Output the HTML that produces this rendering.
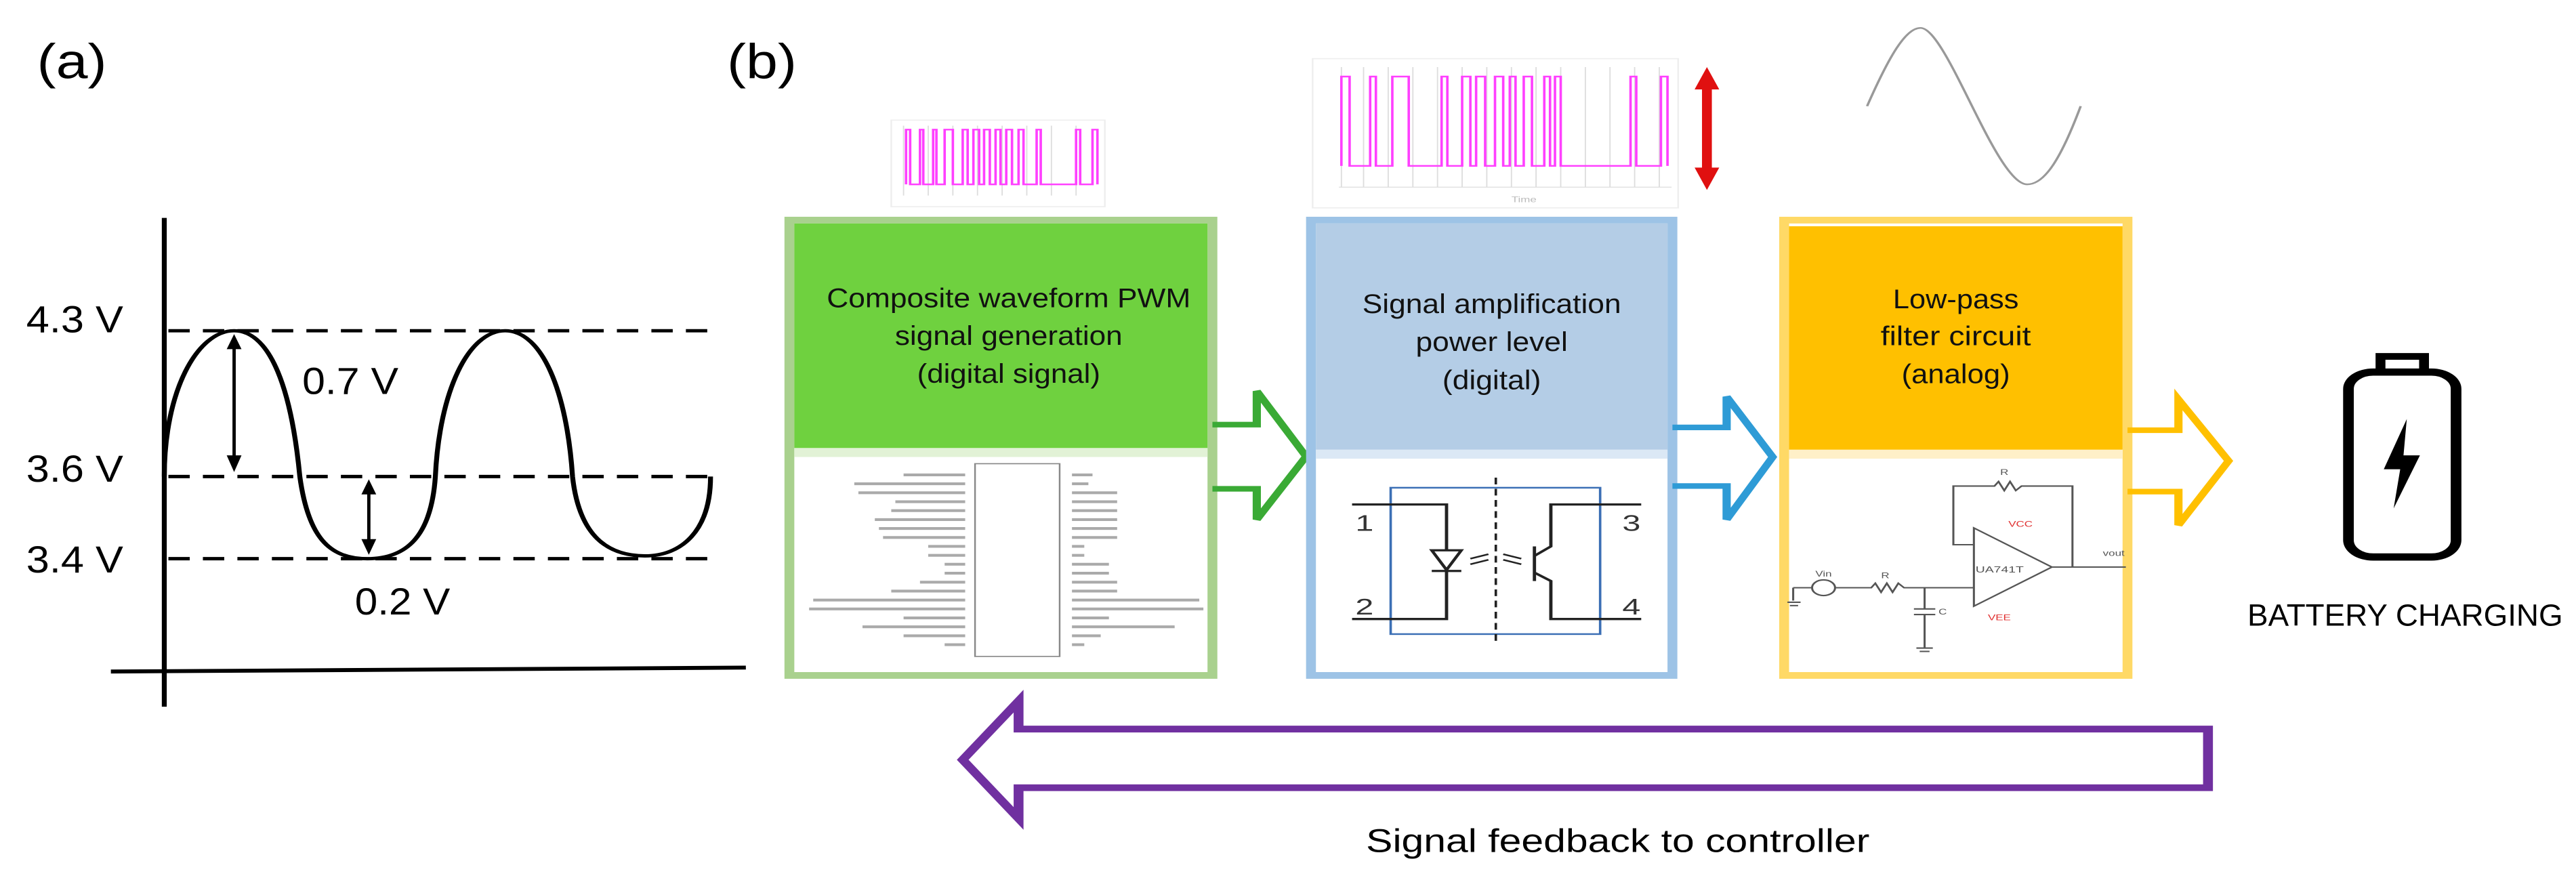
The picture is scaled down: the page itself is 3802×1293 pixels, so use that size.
<!DOCTYPE html>
<html><head><meta charset="utf-8"><style>
html,body{margin:0;padding:0;background:#fff;}
svg{display:block;}
text{font-family:"Liberation Sans",sans-serif;}
</style></head><body>
<svg width="3802" height="1293" viewBox="0 0 3136 1568" preserveAspectRatio="none" xmlns="http://www.w3.org/2000/svg">
<!-- (a) -->
<text x="45" y="140" font-size="88" textLength="85" lengthAdjust="spacingAndGlyphs">(a)</text>
<text x="885" y="140" font-size="88" textLength="85" lengthAdjust="spacingAndGlyphs">(b)</text>
<line x1="200" y1="390" x2="200" y2="1265" stroke="#000" stroke-width="6"/>
<line x1="135" y1="1202" x2="908" y2="1195" stroke="#000" stroke-width="7"/>
<g stroke="#000" stroke-width="6" stroke-dasharray="26 16">
<line x1="205" y1="592" x2="870" y2="592"/>
<line x1="205" y1="853" x2="865" y2="853"/>
<line x1="205" y1="1000" x2="865" y2="1000"/>
</g>
<g font-size="68">
<text x="32" y="595" textLength="118" lengthAdjust="spacingAndGlyphs">4.3 V</text>
<text x="32" y="862" textLength="118" lengthAdjust="spacingAndGlyphs">3.6 V</text>
<text x="32" y="1025" textLength="118" lengthAdjust="spacingAndGlyphs">3.4 V</text>
<text x="368" y="705" textLength="117" lengthAdjust="spacingAndGlyphs">0.7 V</text>
<text x="432" y="1100" textLength="116" lengthAdjust="spacingAndGlyphs">0.2 V</text>
</g>
<path d="M200,853 C200,700 240,592 285,592 C330,592 355,700 365,853 C375,960 400,1000 447,1000 C495,1000 525,960 530,853 C535,700 570,592 615,592 C660,592 690,700 697,853 C705,960 740,995 785,995 C830,995 865,950 865,853" fill="none" stroke="#000" stroke-width="6"/>
<line x1="285" y1="615" x2="285" y2="825" stroke="#000" stroke-width="4"/>
<path d="M276,625 L285,598 L294,625 z M276,815 L285,845 L294,815 z" fill="#000"/>
<line x1="449" y1="875" x2="449" y2="975" stroke="#000" stroke-width="4"/>
<path d="M440,885 L449,858 L458,885 z M440,965 L449,993 L458,965 z" fill="#000"/>

<!-- small PWM image -->
<rect x="1085" y="215" width="260" height="155" fill="#fff" stroke="#eee" stroke-width="2"/>
<g stroke="#ddd" stroke-width="1.5">
<line x1="1100" y1="225" x2="1100" y2="350"/><line x1="1130" y1="225" x2="1130" y2="350"/><line x1="1160" y1="225" x2="1160" y2="350"/><line x1="1190" y1="225" x2="1190" y2="350"/><line x1="1220" y1="225" x2="1220" y2="350"/><line x1="1250" y1="225" x2="1250" y2="350"/><line x1="1280" y1="225" x2="1280" y2="350"/><line x1="1310" y1="225" x2="1310" y2="350"/>
</g>
<path d="M1103,330 V232 H1108 V330 H1120 V232 H1124 V330 H1136 V232 H1140 V330 H1150 V232 H1160 V330 H1172 V232 H1178 V330 H1185 V232 H1192 V330 H1198 V232 H1205 V330 H1212 V232 H1218 V330 H1225 V232 H1232 V330 H1240 V232 H1246 V330 H1262 V232 H1267 V330 H1310 V232 H1315 V330 H1330 V232 H1336 V330" fill="none" stroke="#ff40ff" stroke-width="3"/>

<!-- green box -->
<rect x="961" y="394" width="515" height="815" fill="#fff" stroke="#a9d18e" stroke-width="12"/>
<rect x="967" y="400" width="503" height="402" fill="#6fd13f"/>
<rect x="967" y="802" width="503" height="16" fill="#e2f2d6"/>
<g font-size="48" text-anchor="middle" fill="#111">
<text x="1228" y="550" textLength="443" lengthAdjust="spacingAndGlyphs">Composite waveform PWM</text>
<text x="1228" y="617" textLength="277" lengthAdjust="spacingAndGlyphs">signal generation</text>
<text x="1228" y="685" textLength="223" lengthAdjust="spacingAndGlyphs">(digital signal)</text>
</g>
<rect x="1187" y="830" width="103" height="345" fill="#fff" stroke="#888" stroke-width="2"/>
<g stroke="#aaa" stroke-width="5">
<line x1="1100" y1="850" x2="1175" y2="850"/><line x1="1040" y1="866" x2="1175" y2="866"/><line x1="1045" y1="882" x2="1175" y2="882"/><line x1="1090" y1="898" x2="1175" y2="898"/><line x1="1085" y1="914" x2="1175" y2="914"/><line x1="1065" y1="930" x2="1175" y2="930"/><line x1="1070" y1="946" x2="1175" y2="946"/><line x1="1075" y1="962" x2="1175" y2="962"/><line x1="1130" y1="978" x2="1175" y2="978"/><line x1="1130" y1="994" x2="1175" y2="994"/><line x1="1150" y1="1010" x2="1175" y2="1010"/><line x1="1150" y1="1026" x2="1175" y2="1026"/><line x1="1120" y1="1042" x2="1175" y2="1042"/><line x1="1085" y1="1058" x2="1175" y2="1058"/><line x1="990" y1="1074" x2="1175" y2="1074"/><line x1="985" y1="1090" x2="1175" y2="1090"/><line x1="1100" y1="1106" x2="1175" y2="1106"/><line x1="1050" y1="1122" x2="1175" y2="1122"/><line x1="1100" y1="1138" x2="1175" y2="1138"/><line x1="1150" y1="1154" x2="1175" y2="1154"/>
<line x1="1305" y1="850" x2="1330" y2="850"/><line x1="1305" y1="866" x2="1325" y2="866"/><line x1="1305" y1="882" x2="1360" y2="882"/><line x1="1305" y1="898" x2="1360" y2="898"/><line x1="1305" y1="914" x2="1360" y2="914"/><line x1="1305" y1="930" x2="1360" y2="930"/><line x1="1305" y1="946" x2="1360" y2="946"/><line x1="1305" y1="962" x2="1360" y2="962"/><line x1="1305" y1="978" x2="1320" y2="978"/><line x1="1305" y1="994" x2="1320" y2="994"/><line x1="1305" y1="1010" x2="1350" y2="1010"/><line x1="1305" y1="1026" x2="1350" y2="1026"/><line x1="1305" y1="1042" x2="1360" y2="1042"/><line x1="1305" y1="1058" x2="1360" y2="1058"/><line x1="1305" y1="1074" x2="1460" y2="1074"/><line x1="1305" y1="1090" x2="1465" y2="1090"/><line x1="1305" y1="1106" x2="1350" y2="1106"/><line x1="1305" y1="1122" x2="1430" y2="1122"/><line x1="1305" y1="1138" x2="1340" y2="1138"/><line x1="1305" y1="1154" x2="1320" y2="1154"/>
</g>
<!-- green arrow -->
<path d="M1476,760 H1530 V700 L1590,817 L1530,930 V875 H1476" fill="none" stroke="#3aaa35" stroke-width="10" stroke-linejoin="miter"/>

<!-- large PWM image -->
<rect x="1598" y="105" width="445" height="267" fill="#fff" stroke="#eee" stroke-width="2"/>
<g stroke="#ddd" stroke-width="1.5">
<line x1="1633" y1="120" x2="1633" y2="335"/><line x1="1660" y1="120" x2="1660" y2="335"/><line x1="1690" y1="120" x2="1690" y2="335"/><line x1="1720" y1="120" x2="1720" y2="335"/><line x1="1750" y1="120" x2="1750" y2="335"/><line x1="1780" y1="120" x2="1780" y2="335"/><line x1="1810" y1="120" x2="1810" y2="335"/><line x1="1840" y1="120" x2="1840" y2="335"/><line x1="1870" y1="120" x2="1870" y2="335"/><line x1="1900" y1="120" x2="1900" y2="335"/><line x1="1930" y1="120" x2="1930" y2="335"/><line x1="1960" y1="120" x2="1960" y2="335"/><line x1="1990" y1="120" x2="1990" y2="335"/><line x1="2020" y1="120" x2="2020" y2="335"/>
<line x1="1630" y1="335" x2="2035" y2="335"/>
</g>
<path d="M1633,297 V137 H1643 V297 H1668 V137 H1675 V297 H1695 V137 H1715 V297 H1755 V137 H1762 V297 H1780 V137 H1790 V297 H1797 V137 H1808 V297 H1820 V137 H1830 V297 H1838 V137 H1845 V297 H1855 V137 H1865 V297 H1880 V137 H1887 V297 H1893 V137 H1900 V297 H1985 V137 H1992 V297 H2022 V137 H2030 V297" fill="none" stroke="#ff40ff" stroke-width="3"/>
<text x="1840" y="362" font-size="14" fill="#bbb">Time</text>
<line x1="2078" y1="150" x2="2078" y2="310" stroke="#e01010" stroke-width="12"/>
<path d="M2063,160 L2078,120 L2093,160 z M2063,300 L2078,340 L2093,300 z" fill="#e01010"/>

<!-- sine -->
<path d="M2273,190 C2300,100 2320,50 2338,50 C2370,50 2430,330 2468,330 C2490,330 2510,280 2533,190" fill="none" stroke="#999" stroke-width="3"/>

<!-- blue box -->
<rect x="1596" y="394" width="440" height="815" fill="#fff" stroke="#9dc3e6" stroke-width="12"/>
<rect x="1602" y="400" width="428" height="405" fill="#b4cde6"/>
<rect x="1602" y="805" width="428" height="16" fill="#dbe8f5"/>
<g font-size="48" text-anchor="middle" fill="#111">
<text x="1816" y="560" textLength="315" lengthAdjust="spacingAndGlyphs">Signal amplification</text>
<text x="1816" y="628" textLength="185" lengthAdjust="spacingAndGlyphs">power level</text>
<text x="1816" y="697" textLength="120" lengthAdjust="spacingAndGlyphs">(digital)</text>
</g>
<rect x="1693" y="873" width="255" height="262" fill="none" stroke="#3b6fb5" stroke-width="3"/>
<line x1="1821" y1="855" x2="1821" y2="1155" stroke="#222" stroke-width="3" stroke-dasharray="12 8"/>
<g fill="none" stroke="#222" stroke-width="4">
<path d="M1646,903 H1761 V985"/>
<path d="M1761,1022 V1108 H1646"/>
<path d="M1743,985 H1779 L1761,1020 z"/>
<path d="M1743,1022 H1779"/>
<path d="M1868,978 V1040"/>
<path d="M1868,995 L1888,978 V903 H1998"/>
<path d="M1868,1025 L1888,1040 V1108 H1998"/>
<path d="M1790,1000 L1812,992 M1790,1010 L1812,1002 M1830,992 L1852,1000 M1830,1002 L1852,1010" stroke-width="3"/>
</g>
<g font-family="Liberation Serif,serif" font-size="40" fill="#333">
<text x="1650" y="950">1</text><text x="1650" y="1100">2</text><text x="1975" y="950">3</text><text x="1975" y="1100">4</text>
</g>
<!-- blue arrow -->
<path d="M2036,765 H2102 V710 L2158,818 L2102,930 V870 H2036" fill="none" stroke="#2e9bd6" stroke-width="10"/>

<!-- orange box -->
<rect x="2172" y="394" width="418" height="815" fill="#fff" stroke="#ffd966" stroke-width="12"/>
<rect x="2178" y="405" width="406" height="400" fill="#ffc000"/>
<rect x="2178" y="805" width="406" height="16" fill="#fff0c8"/>
<g font-size="48" text-anchor="middle" fill="#111">
<text x="2381" y="552" textLength="153" lengthAdjust="spacingAndGlyphs">Low-pass</text>
<text x="2381" y="618" textLength="183" lengthAdjust="spacingAndGlyphs">filter circuit</text>
<text x="2381" y="686" textLength="132" lengthAdjust="spacingAndGlyphs">(analog)</text>
</g>
<g fill="none" stroke="#555" stroke-width="2.5">
<path d="M2183,1052 H2205 M2183,1052 V1075 M2176,1078 H2192 M2179,1084 H2189"/>
<circle cx="2220" cy="1052" r="14"/>
<path d="M2234,1052 H2278 L2283,1044 L2290,1060 L2297,1044 L2304,1060 L2311,1044 L2318,1052 H2403"/>
<path d="M2343,1052 V1090 M2330,1090 H2356 M2330,1100 H2356 M2343,1100 V1160 M2333,1160 H2353 M2337,1166 H2349"/>
<path d="M2403,945 V1085 L2498,1015 z"/>
<path d="M2498,1015 H2588"/>
<path d="M2403,975 H2378 V870 H2428 L2433,862 L2440,878 L2447,862 L2454,878 L2461,870 H2523 V1015"/>
</g>
<g fill="#e03030" font-size="14"><text x="2210" y="1032" fill="#555">Vin</text><text x="2290" y="1035" fill="#555">R</text><text x="2435" y="850" fill="#555">R</text><text x="2360" y="1100" fill="#555">C</text><text x="2405" y="1025" fill="#555" font-size="16">UA741T</text><text x="2445" y="943">VCC</text><text x="2420" y="1110">VEE</text><text x="2560" y="995" fill="#555">vout</text></g>

<!-- yellow arrow -->
<path d="M2590,770 H2652 V715 L2713,825 L2652,940 V880 H2590" fill="none" stroke="#ffc000" stroke-width="10"/>

<!-- battery -->
<rect x="2859" y="666" width="131" height="331" rx="30" fill="none" stroke="#000" stroke-width="13"/>
<path d="M2898,666 V638 H2951 V666" fill="none" stroke="#000" stroke-width="12"/>
<path d="M2930,750 L2902,840 H2922 L2914,910 L2946,815 H2926 z" fill="#000"/>
<text x="2736" y="1120" font-size="55" textLength="384" lengthAdjust="spacingAndGlyphs">BATTERY  CHARGING</text>

<!-- purple arrow -->
<path d="M2688,1305 V1410 H1240 V1465 L1172,1360 L1240,1255 V1305 z" fill="none" stroke="#7030a0" stroke-width="12"/>
<text x="1663" y="1525" font-size="58" textLength="613" lengthAdjust="spacingAndGlyphs">Signal feedback to controller</text>
</svg>
</body></html>
